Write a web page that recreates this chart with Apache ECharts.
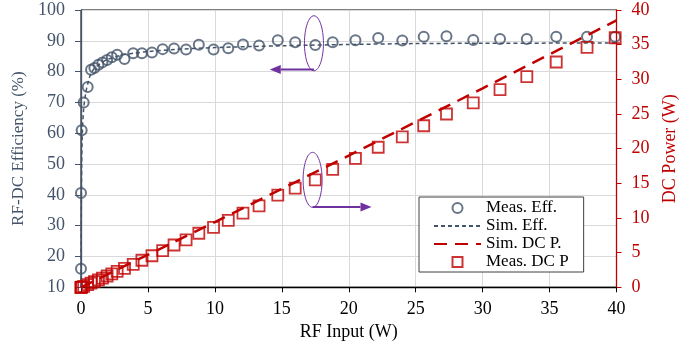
<!DOCTYPE html>
<html><head><meta charset="utf-8">
<script src="https://cdn.jsdelivr.net/npm/echarts@6/dist/echarts.min.js"></script>
<style>html,body{margin:0;padding:0;background:#fff}#c{width:694px;height:351px}</style>
</head><body><div id="c"></div>
<script>
// RF input (W) for measured points
const measX = [0, 0, 0.05, 0.2, 0.5, 0.75, 1.0, 1.3, 1.6, 1.95, 2.3, 2.7, 3.25, 3.9, 4.55, 5.3, 6.1, 6.95, 7.85, 8.8, 9.9, 11.0, 12.1, 13.3, 14.7, 16.0, 17.5, 18.8, 20.5, 22.2, 24.0, 25.6, 27.3, 29.3, 31.3, 33.3, 35.5, 37.8, 39.9];
// Measured efficiency (%)
const measEff = [16, 40.6, 61, 70, 75, 80.6, 81.2, 82.2, 83, 83.8, 84.7, 85.5, 84.1, 86, 86, 86.2, 87.3, 87.5, 87.2, 88.7, 87.2, 87.6, 88.8, 88.5, 90.2, 89.5, 88.6, 89.5, 90.2, 90.9, 90.1, 91.3, 91.5, 90.3, 90.6, 90.6, 91.3, 91.3, 91.3];
// Measured DC power (W)
const measDC = [0, 0, 0.03, 0.14, 0.38, 0.6, 0.82, 1.07, 1.33, 1.63, 1.95, 2.3, 2.73, 3.3, 3.9, 4.55, 5.3, 6.1, 6.85, 7.8, 8.65, 9.65, 10.7, 11.75, 13.3, 14.3, 15.5, 17.0, 18.6, 20.2, 21.7, 23.3, 25.0, 26.6, 28.5, 30.4, 32.5, 34.6, 36.0];
// Simulated efficiency curve
const simEffX = [0, 0.02, 0.05, 0.1, 0.2, 0.35, 0.5, 0.75, 1, 1.5, 2, 3, 4, 5, 7, 10, 15, 20, 25, 30, 40];
const simEff = [10, 30, 50, 60, 68, 73, 76, 79.5, 81, 82.8, 84, 85.3, 86, 86.5, 87.2, 87.8, 88.4, 88.8, 89.1, 89.2, 89.3];
// Simulated DC power curve
const simDCX = [0, 10, 20, 30, 40];
const simDC = [0, 9.4, 19.0, 28.7, 38.5];

const SLATE = '#44546a', RED = '#c00000', PURPLE = '#7030a0';
const FONT = 'Liberation Serif';
const pair = (xs, ys) => xs.map((x, i) => [x, ys[i]]);

const chart = echarts.init(document.getElementById('c'));
const option = {
  animation: false,
  backgroundColor: '#fff',
  textStyle: { fontFamily: FONT },
  grid: { left: 81, right: 77.5, top: 10, bottom: 63.7, show: true, borderColor: '#000', borderWidth: 1, containLabel: false },
  legend: {
    orient: 'vertical', left: 419, top: 197,
    itemWidth: 47, itemHeight: 10, itemGap: 0,
    padding: [2, 15, 1, 14],
    backgroundColor: '#fff', borderColor: '#404040', borderWidth: 1,
    textStyle: { fontFamily: FONT, fontSize: 17, lineHeight: 18, color: '#000' },
    data: [
      { name: 'Meas. Eff.' },
      { name: 'Sim. Eff.', itemStyle: { opacity: 0 } },
      { name: 'Sim. DC P.', itemStyle: { opacity: 0 } },
      { name: 'Meas. DC P', icon: 'path://M0,0H10V10H0Z' }
    ]
  },
  xAxis: {
    type: 'value', min: 0, max: 40, interval: 5,
    name: 'RF Input (W)', nameLocation: 'middle', nameGap: 35,
    nameTextStyle: { fontFamily: FONT, fontSize: 18, color: '#000' },
    axisLine: { show: true, lineStyle: { color: '#000', width: 1.3 } },
    axisTick: { show: true, inside: false, length: 5, lineStyle: { color: '#000' } },
    axisLabel: { fontFamily: FONT, fontSize: 18, color: '#000', margin: 13 },
    splitLine: { show: true, lineStyle: { color: '#d9d9d9', width: 1 } }
  },
  yAxis: [{
    type: 'value', min: 10, max: 100, interval: 10, position: 'left',
    name: 'RF-DC Efficiency (%)', nameLocation: 'middle', nameGap: 42,
    nameTextStyle: { fontFamily: FONT, fontSize: 17, color: SLATE },
    axisLine: { show: true, lineStyle: { color: SLATE, width: 1.3 } },
    axisTick: { show: true, inside: false, length: 6, lineStyle: { color: SLATE } },
    axisLabel: { fontFamily: FONT, fontSize: 18, color: SLATE, margin: 16 },
    splitLine: { show: true, lineStyle: { color: '#d9d9d9', width: 1 } }
  }, {
    type: 'value', min: 0, max: 40, interval: 5, position: 'right',
    name: 'DC Power (W)', nameLocation: 'middle', nameGap: 45,
    nameTextStyle: { fontFamily: FONT, fontSize: 18, color: RED },
    axisLine: { show: true, lineStyle: { color: RED, width: 1.3 } },
    axisTick: { show: true, inside: false, length: 5, lineStyle: { color: RED } },
    axisLabel: { fontFamily: FONT, fontSize: 18, color: RED, margin: 15 },
    splitLine: { show: false }
  }],
  series: [{
    name: 'Meas. Eff.', type: 'scatter', yAxisIndex: 0,
    data: pair(measX, measEff), symbol: 'circle', symbolSize: 10,
    itemStyle: { color: 'transparent', borderColor: SLATE, borderWidth: 2 }, z: 3
  }, {
    name: 'Sim. Eff.', type: 'line', yAxisIndex: 0,
    data: pair(simEffX, simEff), symbol: 'none', smooth: 0.3,
    lineStyle: { color: SLATE, width: 1.5, type: [4, 3] }, itemStyle: { color: SLATE }, z: 4
  }, {
    name: 'Sim. DC P.', type: 'line', yAxisIndex: 1,
    data: pair(simDCX, simDC), symbol: 'none',
    lineStyle: { color: RED, width: 2.5, type: [13, 8] }, itemStyle: { color: RED }, z: 4
  }, {
    name: 'Meas. DC P', type: 'scatter', yAxisIndex: 1,
    data: pair(measX, measDC), symbol: 'rect', symbolSize: 11,
    itemStyle: { color: 'transparent', borderColor: RED, borderWidth: 1.8 }, z: 5
  }]
};
chart.setOption(option);

function annot(seriesIndex, cx, cy, arrowY, arrowToX) {
  const c = chart.convertToPixel({ seriesIndex }, [cx, cy]);
  const a0 = chart.convertToPixel({ seriesIndex }, [cx, arrowY]);
  const a1 = chart.convertToPixel({ seriesIndex }, [arrowToX, arrowY]);
  const dir = Math.sign(a1[0] - a0[0]);
  const headLen = 11, headHalf = 4.5;
  return [
    { type: 'ellipse', shape: { cx: c[0], cy: c[1], rx: 9.5, ry: 27.5 }, style: { fill: 'none', stroke: PURPLE, lineWidth: 1 }, z: 10 },
    { type: 'line', shape: { x1: a0[0], y1: a0[1], x2: a1[0] - dir * headLen, y2: a1[1] }, style: { stroke: PURPLE, lineWidth: 2 }, z: 10 },
    { type: 'polygon', shape: { points: [[a1[0], a1[1]], [a1[0] - dir * headLen, a1[1] - headHalf], [a1[0] - dir * headLen, a1[1] + headHalf]] }, style: { fill: PURPLE }, z: 10 }
  ];
}
chart.setOption({ graphic: [].concat(annot(0, 17.4, 89.2, 80.7, 14.1), annot(3, 17.3, 15.5, 11.6, 21.7)) });
</script></body></html>
